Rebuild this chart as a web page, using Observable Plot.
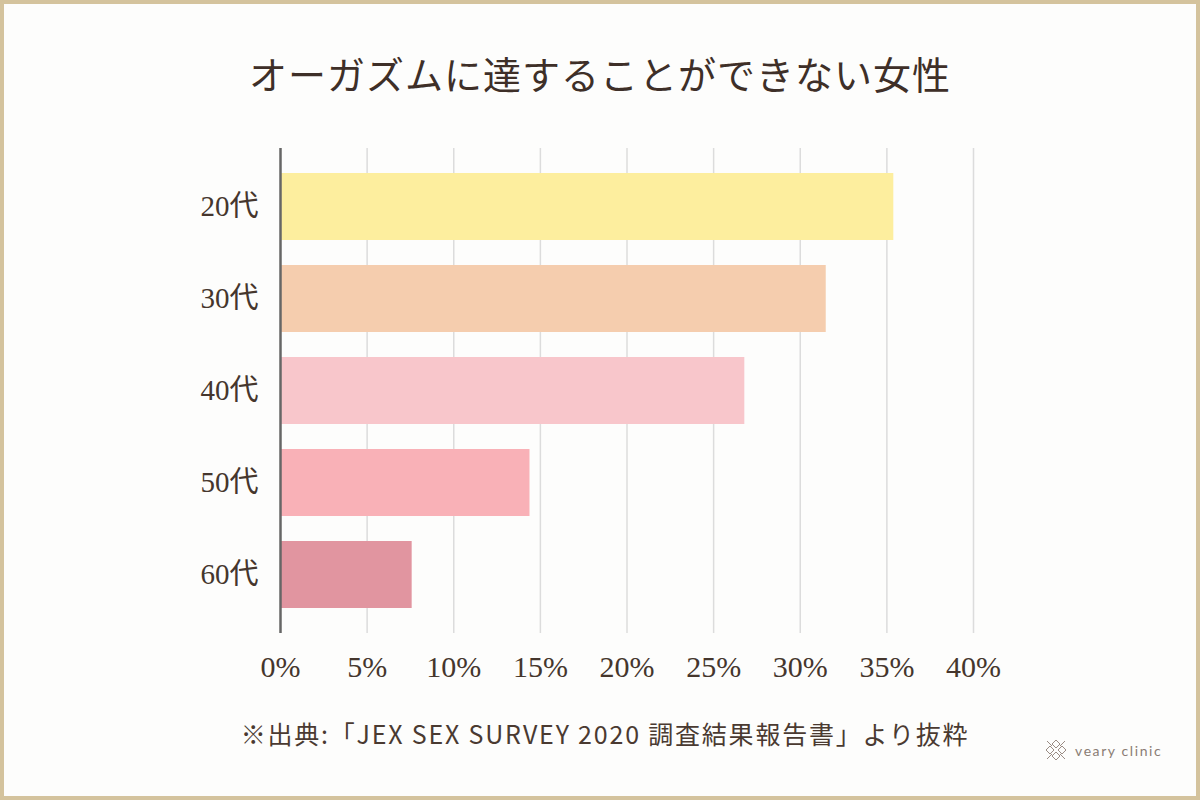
<!DOCTYPE html>
<html>
<head>
<meta charset="utf-8">
<script src="https://cdn.jsdelivr.net/npm/d3@7"></script>
<script src="https://cdn.jsdelivr.net/npm/@observablehq/plot@0.6"></script>
<style>
  html, body { margin: 0; padding: 0; background: #fdfdfc; }
  #frame {
    position: relative; width: 1200px; height: 800px; overflow: hidden;
    background: #fdfdfc; box-sizing: border-box;
    box-shadow: inset 0 0 0 4px #d4c39d;
  }
  #title {
    position: absolute; left: 0; top: 48px; width: 1200px; text-align: center;
    font-family: "Noto Sans CJK JP", sans-serif; font-size: 38px; font-weight: 400;
    color: #3e2f28; letter-spacing: 1px; line-height: 50px;
  }
  #chart { position: absolute; left: 0; top: 100px; }
  #caption {
    position: absolute; left: 0; top: 715px; width: 1210px; text-align: center;
    font-family: "Noto Sans CJK JP", sans-serif; font-size: 25px; font-weight: 400;
    color: #4a3a31; line-height: 36px; letter-spacing: 1.8px;
  }
  #logo {
    position: absolute; left: 1044px; top: 738px; height: 24px;
    display: flex; align-items: center; gap: 7px;
    font-family: "Lato", sans-serif; font-size: 14px; color: #8a7c74; letter-spacing: 1.6px;
  }
</style>
</head>
<body>
<div id="frame">
  <div id="title">オーガズムに達することができない女性</div>
  <div id="chart"></div>
  <div id="caption">※出典:「JEX SEX SURVEY 2020 調査結果報告書」より抜粋</div>
  <div id="logo">
    <svg width="24" height="24" viewBox="0 0 24 24" fill="none" stroke="#9a8c84" stroke-width="1">
      <path d="M12 2 L16 6 L12 10 L8 6 Z M12 14 L16 18 L12 22 L8 18 Z M2 12 L6 8 L10 12 L6 16 Z M14 12 L18 8 L22 12 L18 16 Z"/>
      <path d="M3 3 L8 8 M21 3 L16 8 M3 21 L8 16 M21 21 L16 16"/>
    </svg>
    <span>veary clinic</span>
  </div>
</div>
<script>
const ages = ["20代", "30代", "40代", "50代", "60代"];
const values = [35.4, 31.5, 26.8, 14.4, 7.6];
const barColors = ["#fdee9e", "#f5cdae", "#f8c6cb", "#f9b1b7", "#e195a0"];
const xTicks = [0, 5, 10, 15, 20, 25, 30, 35, 40];

const data = ages.map((a, i) => ({age: a, value: values[i]}));

const chart = Plot.plot({
  width: 1200,
  height: 600,
  marginTop: 48,
  marginBottom: 67,
  marginLeft: 280,
  marginRight: 227,
  style: {background: "transparent", fontFamily: "'Liberation Serif', 'Noto Sans CJK JP', serif", color: "#45362d"},
  x: {domain: [0, 40], ticks: xTicks, tickFormat: d => d + "%", tickSize: 0, tickPadding: 22, label: null},
  y: {domain: ages, paddingInner: 0.267, paddingOuter: 0.248, tickSize: 0, tickPadding: 22, label: null},
  color: {domain: ages, range: barColors},
  marks: [
    Plot.ruleX(xTicks.slice(1), {stroke: "#dcdcdc", strokeWidth: 1.5}),
    Plot.barX(data, {x: "value", y: "age", fill: "age"}),
    Plot.ruleX([0], {stroke: "#666", strokeWidth: 2.5}),
    Plot.axisX({ticks: xTicks, tickFormat: d => d + "%", tickSize: 0, tickPadding: 22, fontSize: 30, fill: "#45362d", label: null}),
    Plot.axisY({tickSize: 0, tickPadding: 22, fontSize: 29, fill: "#45362d", label: null})
  ]
});
document.getElementById("chart").appendChild(chart);
</script>
</body>
</html>
